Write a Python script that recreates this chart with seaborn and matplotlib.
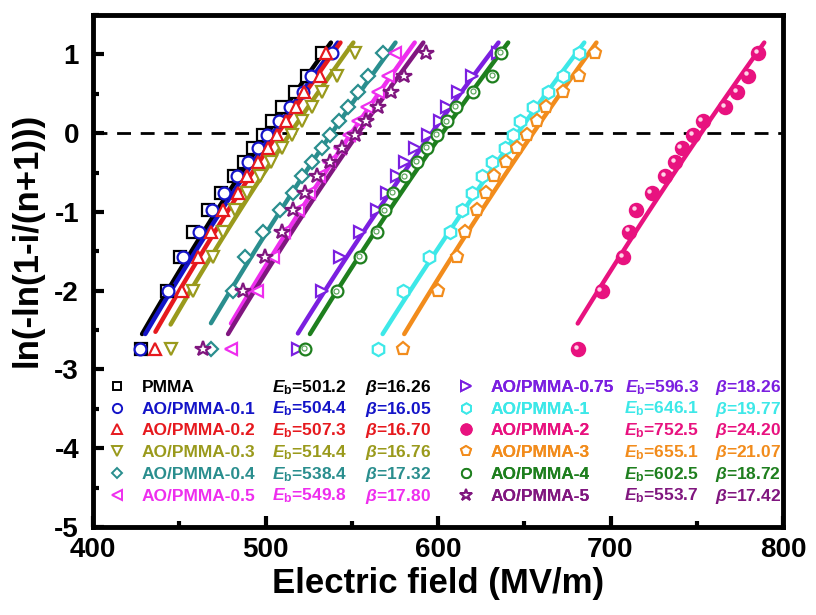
import numpy as np
import matplotlib
matplotlib.use("Agg")
import matplotlib.pyplot as plt
import seaborn as sns
from matplotlib.lines import Line2D
from matplotlib.ticker import MultipleLocator
from matplotlib.transforms import offset_copy

# ---- data -------------------------------------------------------------
names = ["PMMA", "AO/PMMA-0.1", "AO/PMMA-0.2", "AO/PMMA-0.3", "AO/PMMA-0.4",
         "AO/PMMA-0.5", "AO/PMMA-0.75", "AO/PMMA-1", "AO/PMMA-2", "AO/PMMA-3",
         "AO/PMMA-4", "AO/PMMA-5"]
eb = [501.2, 504.4, 507.3, 514.4, 538.4, 549.8, 596.3, 646.1, 752.5, 655.1, 602.5, 553.7]
beta = [16.26, 16.05, 16.70, 16.76, 17.32, 17.80, 18.26, 19.77, 24.20, 21.07, 18.72, 17.42]

# Weibull ordinate of the ranked samples (15 specimens per film)
y_rank = [-2.74, -2.01, -1.57, -1.25, -0.98, -0.76, -0.55, -0.37,
          -0.19, -0.02, 0.15, 0.33, 0.52, 0.73, 1.02]

# breakdown fields (MV/m), ranked
field_pmma = [428.0, 443.0, 450.5, 458.1, 466.9, 474.0, 481.5, 487.5, 493.0, 498.7, 503.6, 509.4, 517.0, 523.9, 532.6]
field_01 = [427.5, 443.6, 452.0, 461.6, 468.8, 476.0, 483.6, 490.0, 495.8, 500.7, 508.0, 514.0, 521.9, 526.5, 538.4]
field_02 = [436.2, 451.4, 461.0, 468.2, 475.5, 484.2, 489.4, 495.8, 501.6, 506.5, 511.9, 517.7, 522.3, 531.6, 535.1]
field_03 = [445.0, 457.7, 469.7, 475.5, 482.3, 489.4, 496.8, 503.0, 509.4, 515.2, 521.0, 526.7, 532.6, 541.3, 551.9]
field_04 = [468.4, 481.3, 488.1, 498.7, 508.4, 515.7, 521.0, 526.7, 532.6, 537.4, 542.8, 548.0, 553.8, 559.6, 567.9]
field_05 = [480.0, 494.9, 504.5, 511.0, 519.0, 525.0, 531.0, 537.0, 543.0, 548.5, 553.5, 559.0, 565.0, 571.0, 575.1]
field_075 = [518.8, 532.6, 543.2, 554.8, 564.5, 570.5, 576.0, 581.0, 586.7, 594.4, 601.2, 605.0, 611.8, 619.5, 635.0]
field_1 = [565.0, 579.9, 595.0, 607.0, 613.7, 619.5, 625.3, 631.1, 638.8, 643.7, 647.5, 655.2, 663.9, 672.6, 681.9]
field_2 = [681.0, 694.8, 707.1, 710.6, 714.9, 723.8, 731.6, 737.4, 741.2, 748.0, 753.4, 766.4, 773.5, 779.9, 785.7]
field_3 = [579.7, 599.8, 610.8, 615.7, 622.6, 627.8, 632.3, 639.5, 645.6, 651.7, 657.2, 662.7, 672.6, 682.0, 691.0]
field_4 = [523.0, 541.3, 554.8, 564.5, 569.3, 574.1, 580.9, 587.6, 593.4, 599.2, 605.4, 610.2, 620.5, 631.5, 636.5]
field_5 = [464.0, 487.1, 499.7, 509.4, 516.0, 523.0, 530.0, 537.5, 544.5, 552.0, 558.0, 565.0, 573.0, 580.0, 593.0]

fields = [field_pmma, field_01, field_02, field_03, field_04, field_05,
          field_075, field_1, field_2, field_3, field_4, field_5]

x_ticks = [400, 500, 600, 700, 800]
y_ticks = [-5, -4, -3, -2, -1, 0, 1]

# ordinate span over which the fitted lines are drawn
fit_y_low, fit_y_high = -2.55, 1.15

# ---- style ------------------------------------------------------------
colors = ["#000000", "#1414C8", "#E6191E", "#9A9A1C", "#2A8E8E", "#EE2EEE",
          "#7B1FE0", "#3DE8E8", "#E8127F", "#F28C1C", "#1E7F1E", "#80167F"]
markers = ["s", "o", "^", "v", "D", "<", ">", "h", "o", "p", "o", "*"]
msizes = [8, 8.5, 9, 9, 6.8, 9, 9, 9.5, 9.5, 9.5, 8.5, 11.5]
filled = [False] * 12
filled[8] = True

sns.set_theme(style="ticks")
base = "Liberation Sans"
plt.rcParams["font.family"] = [base, "DejaVu Sans"]
plt.rcParams["font.weight"] = "bold"
plt.rcParams["axes.unicode_minus"] = False
plt.rcParams["mathtext.fontset"] = "custom"
plt.rcParams["mathtext.rm"] = base + ":bold"
plt.rcParams["mathtext.bf"] = base + ":bold"
plt.rcParams["mathtext.it"] = base + ":italic"
plt.rcParams["mathtext.bfit"] = base + ":italic:bold"
plt.rcParams["lines.scale_dashes"] = False

fig, ax = plt.subplots(figsize=(8.16, 6.15), dpi=100)
fig.subplots_adjust(left=93 / 816, right=783 / 816, bottom=88 / 615, top=600 / 615)

# reference line at the 63.2 % failure probability
ax.axhline(0, color="black", lw=2.0, ls=(0, (10, 7)), zorder=1.5)

# Weibull fit lines  y = beta * ln(E / Eb)
for k, xs in enumerate(fields):
    x_lo = max(min(xs), eb[k] * np.exp(fit_y_low / beta[k]))
    x_hi = eb[k] * np.exp(fit_y_high / beta[k])
    xf = np.linspace(x_lo, x_hi, 80)
    yf = beta[k] * np.log(xf / eb[k])
    sns.lineplot(x=xf, y=yf, ax=ax, color=colors[k], lw=3.2, sort=False,
                 estimator=None, zorder=2)

# measured points
for k, xs in enumerate(fields):
    face = colors[k] if filled[k] else "white"
    sns.lineplot(x=xs, y=y_rank, ax=ax, linestyle="", marker=markers[k],
                 markersize=msizes[k], markerfacecolor=face,
                 markeredgecolor=colors[k], markeredgewidth=1.6,
                 color=colors[k], sort=False, estimator=None, zorder=3)

# shading details on the ball-type symbols
shine = offset_copy(ax.transData, fig=fig, x=-1.6, y=1.6, units="points")
sns.lineplot(x=field_2, y=y_rank, ax=ax, linestyle="", marker="o", markersize=3.2,
             markerfacecolor="#FFD3E8", markeredgewidth=0, color="#FFD3E8",
             transform=shine, sort=False, estimator=None, zorder=4)
inner = offset_copy(ax.transData, fig=fig, x=-0.6, y=0.6, units="points")
sns.lineplot(x=field_4, y=y_rank, ax=ax, linestyle="", marker="o", markersize=3.6,
             markerfacecolor="none", markeredgecolor="#5FA85F", markeredgewidth=0.9,
             color="#5FA85F", transform=inner, sort=False, estimator=None, zorder=4)

# ---- axes -------------------------------------------------------------
ax.set_xlim(400, 800)
ax.set_ylim(-5, 1.5)
ax.set_xticks(x_ticks)
ax.set_yticks(y_ticks)
ax.xaxis.set_minor_locator(MultipleLocator(50))
ax.yaxis.set_minor_locator(MultipleLocator(0.5))
ax.tick_params(which="major", direction="in", length=8, width=3, color="black",
               labelsize=20, labelcolor="black", top=False, right=False)
ax.tick_params(axis="x", which="major", pad=7)
ax.tick_params(axis="y", which="major", pad=10)
ax.tick_params(which="minor", direction="in", length=4.5, width=3, color="black",
               top=False, right=False)
for lab in ax.get_xticklabels() + ax.get_yticklabels():
    lab.set_fontweight("bold")
for sp in ax.spines.values():
    sp.set_visible(True)
    sp.set_linewidth(3.5)
    sp.set_color("black")

ax.set_xlabel("Electric field (MV/m)", fontsize=25, fontweight="bold", color="black", labelpad=3)
ax.set_ylabel("ln(-ln(1-i/(n+1)))", fontsize=25, fontweight="bold", color="black")
ax.yaxis.set_label_coords(-0.072, 0.56)

# ---- legend with Weibull parameters ----------------------------------
leg_size = 12.5


def make_handle(k):
    face = colors[k] if filled[k] else "white"
    return Line2D([], [], linestyle="none", marker=markers[k],
                  markersize=msizes[k] * 0.78, markerfacecolor=face,
                  markeredgecolor=colors[k], markeredgewidth=1.4)


legends = []
for idxs, x_anchor in [(range(0, 6), 0.0222), (range(6, 12), 0.528)]:
    leg = ax.legend([make_handle(k) for k in idxs], [names[k] for k in idxs],
                    loc="upper left", bbox_to_anchor=(x_anchor, 0.2875),
                    frameon=False, prop={"size": leg_size, "weight": "bold"},
                    handlelength=1.0, handletextpad=0.94, labelspacing=0.38,
                    borderpad=0, borderaxespad=0)
    for t, k in zip(leg.get_texts(), idxs):
        t.set_color(colors[k])
    ax.add_artist(leg)
    legends.append((leg, list(idxs)))

fig.canvas.draw()
renderer = fig.canvas.get_renderer()
to_axes = ax.transAxes.inverted()
columns = [(0.368, 0.394), (0.878, 0.901)]
for (leg, idxs), (x_eb, x_beta) in zip(legends, columns):
    for t, k in zip(leg.get_texts(), idxs):
        bb = t.get_window_extent(renderer)
        _, _, desc = renderer.get_text_width_height_descent("lp", t.get_fontproperties(), ismath=False)
        _, y_base = to_axes.transform((0, bb.y0 + desc))
        ax.text(x_eb, y_base, r"$\mathbfit{E}_{\mathbf{b}}$" + f"={eb[k]:.1f}",
                transform=ax.transAxes, ha="right", va="baseline",
                fontsize=leg_size, fontweight="bold", color=colors[k])
        ax.text(x_beta, y_base, r"$\beta$" + f"={beta[k]:.2f}",
                transform=ax.transAxes, ha="left", va="baseline",
                fontsize=leg_size, fontweight="bold", color=colors[k])

fig.savefig("out.png", dpi=100, facecolor="white")
